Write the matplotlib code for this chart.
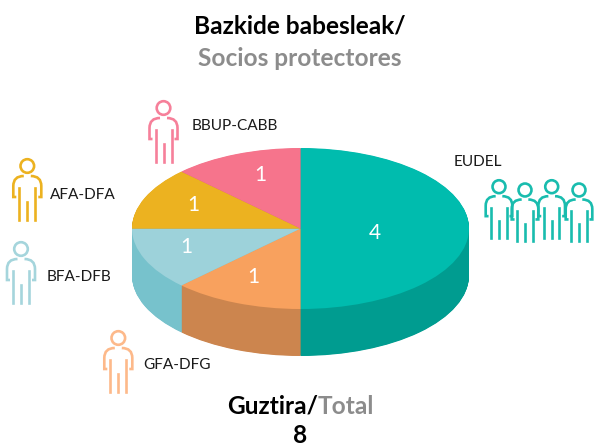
import matplotlib
matplotlib.use('Agg')
import matplotlib.pyplot as plt
import numpy as np
from matplotlib.patches import Circle, PathPatch
from matplotlib.path import Path

plt.rcParams['font.family'] = ['Lato', 'DejaVu Sans']

# datos
socios = ['EUDEL', 'GFA-DFG', 'BFA-DFB', 'AFA-DFA', 'BBUP-CABB']
valores = [4, 1, 1, 1, 1]
total = 8
colores = ['#00bcae', '#f8a15e', '#9dd2da', '#ecb220', '#f6748c']
colores_lado = ['#009c90', '#cc854e', '#77c2cc', '#c9971b', '#d16277']
colores_icono = ['#19bcae', '#fdb98a', '#a5d5dc', '#ecb220', '#f6809a']

W, H = 595, 446
cx, cy, rx, ry = 300.5, 228.5, 168.5, 80.5
fondo = 47

fig = plt.figure(figsize=(W / 100, H / 100), dpi=100)

# tarta: el circulo unidad se deforma en elipse con los limites del eje
ax = fig.add_axes([0, 0, 1, 1])
prof = fondo / ry
for off in np.arange(prof, 0, -0.5 / ry):
    ax.pie(valores, colors=colores_lado, startangle=90, counterclock=False,
           center=(0, -off), wedgeprops=dict(linewidth=0))
ax.pie(valores, colors=colores, startangle=90, counterclock=False,
       wedgeprops=dict(linewidth=0))
ax.set_aspect('auto')
ax.set_xlim(-cx / rx, (W - cx) / rx)
ax.set_ylim(-(H - cy) / ry, cy / ry)
ax.axis('off')

# capa en pixeles para textos e iconos
px = fig.add_axes([0, 0, 1, 1])
px.set_xlim(0, W)
px.set_ylim(H, 0)
px.axis('off')
px.patch.set_alpha(0)


def persona(x, y, color, e=1.0):
    lw = 1.9
    px.add_patch(Circle((x, y), 6.8 * e, fill=False, ec=color, lw=lw))
    for s in (-1, 1):
        brazo = Path([(x + s * 3.5 * e, y + 10 * e), (x + s * 14 * e, y + 10 * e),
                      (x + s * 14 * e, y + 20 * e), (x + s * 14 * e, y + 31 * e),
                      (x + s * 11 * e, y + 31 * e)],
                     [Path.MOVETO, Path.CURVE3, Path.CURVE3, Path.LINETO, Path.LINETO])
        px.add_patch(PathPatch(brazo, fill=False, ec=color, lw=lw))
        px.plot([x + s * 8 * e, x + s * 8 * e], [y + 22 * e, y + 54 * e], color=color, lw=lw)
    px.plot([x, x], [y + 36 * e, y + 54 * e], color=color, lw=lw)


for hx, hy in [(499, 186.7), (525, 190), (551.7, 186.7), (579, 190)]:
    persona(hx, hy, colores_icono[0], 0.95)
persona(118.3, 338, colores_icono[1])
persona(21, 249, colores_icono[2])
persona(27.3, 166, colores_icono[3])
persona(163.5, 108, colores_icono[4])

# etiquetas
pos_etiqueta = [(454, 162), (143, 365), (47, 277), (50, 195), (192, 126)]
for nombre, (x, y) in zip(socios, pos_etiqueta):
    px.text(x, y, nombre, fontsize=11.1, color='#1a1a1a', ha='left', va='center')

# numeros
pos_numero = [(375, 233), (253, 277), (186, 247), (193, 205), (260, 175)]
for v, (x, y) in zip(valores, pos_numero):
    px.text(x, y, str(v), fontsize=15, color='white', ha='center', va='center')

# titulos
px.text(300, 26, 'Bazkide babesleak/', fontsize=17.6, fontweight='bold', color='black',
        ha='center', va='center')
px.text(300, 58, 'Socios protectores', fontsize=17.6, fontweight='bold', color='#8c8c8c',
        ha='center', va='center')
px.text(318, 406, 'Guztira/', fontsize=17.6, fontweight='bold', color='black',
        ha='right', va='center')
px.text(318, 406, 'Total', fontsize=17.6, fontweight='bold', color='#8c8c8c',
        ha='left', va='center')
px.text(300, 435.5, str(total), fontsize=17.6, fontweight='bold', color='black',
        ha='center', va='center')

fig.savefig('out.png', dpi=100)
